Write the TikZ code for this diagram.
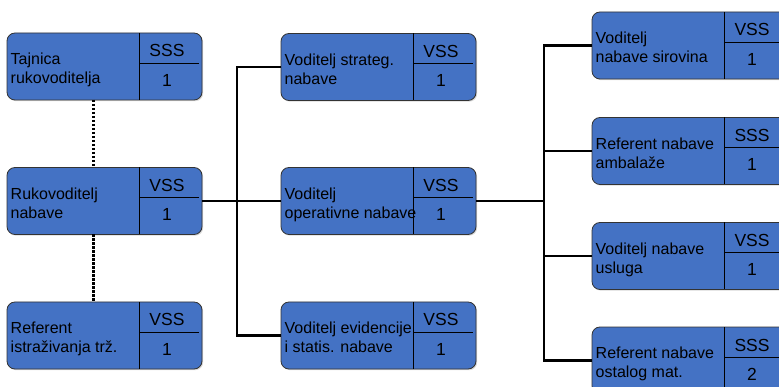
\documentclass[tikz,border=0pt]{standalone}
\usepackage{fontspec}
\setmainfont{Liberation Sans}
\usetikzlibrary{shadows}

\definecolor{plava}{HTML}{4472C4}

% jedno radno mjesto: ime, polozaj, opis, razina, broj
\newcommand{\mjesto}[5]{%
	\node[kutija] (#1) at (#2) {};
	\draw[crta] ([xshift=132pt]#1.north west) -- ([xshift=132pt]#1.south west);
	\draw[crta] ([xshift=132pt,yshift=-30pt]#1.north west) -- ([xshift=-3pt,yshift=-30pt]#1.north east);
	\node[opis] (#1-opis) at ([xshift=3.5pt,yshift=-4pt]#1.west) {#3};
	\node[razina] (#1-razina) at ([xshift=160pt,yshift=-24pt]#1.north west) {#4};
	\node[razina] (#1-broj) at ([xshift=160pt,yshift=-53.5pt]#1.north west) {#5};
}
\newcommand{\gornji}{\rule{0pt}{12pt}}
\newcommand{\donji}{\rule[-4pt]{0pt}{4pt}}

\begin{document}
\begin{tikzpicture}[x=1pt,y=-1pt]
				\tikzstyle{kutija}=[rectangle,rounded corners=8pt,fill=plava,draw=black!80,line width=0.8pt,
				minimum width=195pt,minimum height=67pt,inner sep=0pt,outer sep=0pt,
				drop shadow={shadow xshift=1.2pt,shadow yshift=-1.2pt,opacity=0.3}]
				\tikzstyle{crta}=[black,line width=0.8pt]
				\tikzstyle{opis}=[anchor=west,align=left,inner sep=0pt,
				font=\fontsize{16}{19.3}\selectfont,
				execute at begin node=\gornji,
				execute at end node=\donji]
				\tikzstyle{razina}=[anchor=base,inner sep=0pt,font=\fontsize{17.5}{20}\selectfont]
				\tikzstyle{veza}=[black,line width=2.9pt]
				\tikzstyle{tockasta}=[black,line width=3pt,dash pattern=on 2.2pt off 1.8pt]
				\useasboundingbox (0,0) rectangle (779,387);
				\clip (0,0) rectangle (779,387);
				% lijevo
				\mjesto{taj}{104.5,66.5}{Tajnica\\rukovoditelja}{SSS}{1}
				\mjesto{ruk}{104.5,201}{Rukovoditelj\\nabave}{VSS}{1}
				\mjesto{ref}{104.5,335.5}{Referent\\istraživanja trž.}{VSS}{1}
				% sredina
				\mjesto{str}{378.5,67}{Voditelj strateg.\\nabave}{VSS}{1}
				\mjesto{ops}{378.5,201}{Voditelj\\operativne nabave}{VSS}{1}
				\mjesto{evi}{378.5,335.5}{Voditelj evidencije\\i statis. nabave}{VSS}{1}
				% desno
				\mjesto{sir}{689.5,45.5}{Voditelj\\nabave sirovina}{VSS}{1}
				\mjesto{amb}{689.5,151}{Referent nabave\\ambalaže}{SSS}{1}
				\mjesto{usl}{689.5,256}{Voditelj nabave\\usluga}{VSS}{1}
				\mjesto{ost}{689.5,360.5}{Referent nabave\\ostalog mat.}{SSS}{2}
				% veze
				\coordinate (sab1) at (237,0);
				\coordinate (sab2) at (544,0);
				\draw[tockasta] ([xshift=-11.5pt]taj.south) -- ([xshift=-11.5pt]ruk.north);
				\draw[tockasta] ([xshift=-11.5pt]ruk.south) -- ([xshift=-11.5pt]ref.north);
				\draw[veza] (ruk.east) -- (ops.west);
				\draw[veza] (str.west) -| (sab1 |- evi.west) -- (evi.west);
				\draw[veza] (ops.east) -- (sab2 |- ops.east);
				\draw[veza] (sir.west) -| (sab2 |- ost.west) -- (ost.west);
				\draw[veza] (sab2 |- amb.west) -- (amb.west);
				\draw[veza] (sab2 |- usl.west) -- (usl.west);
\end{tikzpicture}
\end{document}
